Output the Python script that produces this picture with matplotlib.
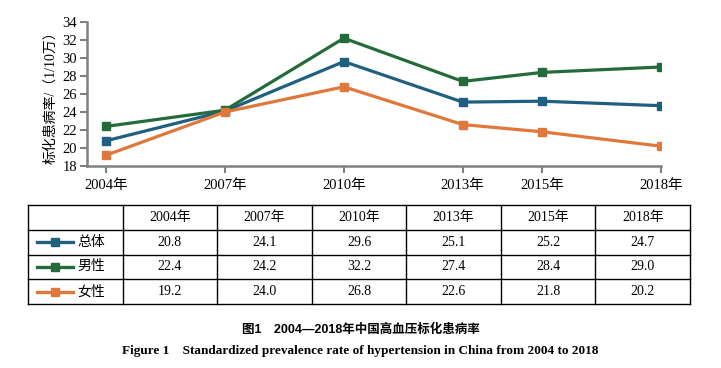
import numpy as np
import matplotlib.pyplot as plt

years = [2004, 2007, 2010, 2013, 2015, 2018]
year_labels = ['2004年', '2007年', '2010年', '2013年', '2015年', '2018年']
total = [20.8, 24.1, 29.6, 25.1, 25.2, 24.7]
male = [22.4, 24.2, 32.2, 27.4, 28.4, 29.0]
female = [19.2, 24.0, 26.8, 22.6, 21.8, 20.2]
series_names = ['总体', '男性', '女性']
colors = ['#1f5f80', '#246b3c', '#e0783c']

serif = ['Liberation Serif', 'Noto Sans CJK SC']
sans = ['Liberation Sans', 'Noto Sans CJK SC']

fig = plt.figure(figsize=(7.21, 3.68), dpi=100)

# line chart
ax = fig.add_axes([87/721, 1-166/368, (661-87)/721, (166-22)/368])
for vals, c in zip([total, male, female], colors):
    ax.plot(years, vals, color=c, lw=2.3, marker='s', ms=5.5, solid_joinstyle='miter')
ax.set_xlim(2004 - 19/39.57, 2018)
ax.set_ylim(18, 34)
ax.set_yticks(np.arange(18, 35, 2))
ax.set_xticks(years)
ax.set_xticklabels(year_labels)
for lab in ax.get_xticklabels() + ax.get_yticklabels():
    lab.set_family(serif)
    lab.set_fontsize(10.5)
ax.tick_params(colors='#808080', labelcolor='black', length=5, width=1.5, pad=2)
ax.tick_params(axis='x', pad=4)
for s in ['top', 'right']:
    ax.spines[s].set_visible(False)
for s in ['left', 'bottom']:
    ax.spines[s].set_color('#808080')
    ax.spines[s].set_linewidth(1.8)
ax.set_ylabel('标化患病率/（1/10万）', family=serif, fontsize=10, labelpad=4)

# data table
tb = fig.add_axes([28/721, 1-304/368, (690-28)/721, (304-205)/368])
tb.set_xlim(0, 7)
tb.set_ylim(4, 0)
tb.axis('off')
for i in range(8):
    tb.plot([i, i], [0, 4], color='black', lw=1.0, clip_on=False)
for j in range(5):
    tb.plot([0, 7], [j, j], color='black', lw=1.0, clip_on=False)
for i, lab in enumerate(year_labels):
    tb.text(i + 1.5, 0.5, lab, ha='center', va='center', fontsize=10, family=serif)
for r, (name, vals, c) in enumerate(zip(series_names, [total, male, female], colors)):
    y = r + 1.5
    tb.plot([0.1, 0.48], [y, y], color=c, lw=2.4)
    tb.plot([0.29], [y], color=c, marker='s', ms=5.5)
    tb.text(0.52, y, name, ha='left', va='center', fontsize=10, family=serif)
    for i, v in enumerate(vals):
        tb.text(i + 1.5, y, f'{v:.1f}', ha='center', va='center', fontsize=10, family=serif)

# captions
fig.text(0.5, 1-330/368, '图1　2004—2018年中国高血压标化患病率', ha='center', va='center',
         fontsize=9, family=sans, weight='bold')
fig.text(0.5, 1-351/368, 'Figure 1　Standardized prevalence rate of hypertension in China from 2004 to 2018',
         ha='center', va='center', fontsize=9.5, family=serif, weight='bold')

fig.savefig('out.png', dpi=100)
